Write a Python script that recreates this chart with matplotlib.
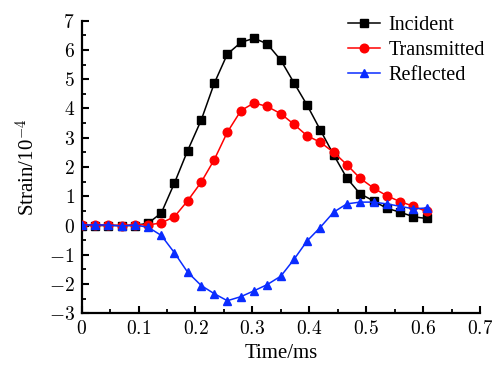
import matplotlib
matplotlib.use("Agg")
import matplotlib.pyplot as plt
from matplotlib.ticker import MultipleLocator, FuncFormatter

plt.rcParams['font.family'] = ['Liberation Serif', 'DejaVu Serif']
plt.rcParams['mathtext.fontset'] = 'cm'

time_ms = [0.000, 0.023, 0.047, 0.070, 0.093, 0.117, 0.140, 0.163, 0.186,
           0.210, 0.233, 0.256, 0.280, 0.303, 0.326, 0.350, 0.373, 0.396,
           0.419, 0.443, 0.466, 0.489, 0.513, 0.536, 0.559, 0.583, 0.606]

incident = [0.00, 0.00, 0.00, 0.00, 0.00, 0.08, 0.43, 1.45, 2.55, 3.60,
            4.86, 5.86, 6.26, 6.40, 6.21, 5.65, 4.88, 4.12, 3.28, 2.41,
            1.62, 1.09, 0.84, 0.59, 0.46, 0.30, 0.24]

transmitted = [0.02, 0.02, 0.02, 0.00, 0.03, 0.02, 0.09, 0.30, 0.84, 1.48,
               2.25, 3.19, 3.93, 4.19, 4.07, 3.82, 3.46, 3.07, 2.85, 2.50,
               2.08, 1.62, 1.28, 1.02, 0.82, 0.66, 0.48]

reflected = [0.02, 0.02, 0.02, -0.02, 0.02, -0.06, -0.34, -0.93, -1.59, -2.05,
             -2.33, -2.57, -2.43, -2.23, -2.02, -1.73, -1.16, -0.53, -0.07, 0.46,
             0.74, 0.80, 0.80, 0.74, 0.66, 0.57, 0.60]

series_names = ["Incident", "Transmitted", "Reflected"]

fig = plt.figure(figsize=(4.92, 3.66), dpi=100)
ax = fig.add_axes([0.166, 0.144, 0.8096, 0.7994])

ax.plot(time_ms, incident, color='black', marker='s', markersize=5.4,
        linewidth=1.1, label=series_names[0], zorder=3)
ax.plot(time_ms, transmitted, color='#ff0000', marker='o', markersize=6.2,
        linewidth=1.1, label=series_names[1], zorder=4)
ax.plot(time_ms, reflected, color='#0a2cff', marker='^', markersize=6.2,
        linewidth=1.1, label=series_names[2], zorder=5)

ax.set_xlim(0, 0.7)
ax.set_ylim(-3, 7)
ax.xaxis.set_major_locator(MultipleLocator(0.1))
ax.xaxis.set_minor_locator(MultipleLocator(0.05))
ax.yaxis.set_major_locator(MultipleLocator(1))
ax.yaxis.set_minor_locator(MultipleLocator(0.5))
ax.xaxis.set_major_formatter(FuncFormatter(lambda v, p: f"${v:.1f}$" if abs(v) > 1e-9 else "$0$"))
ax.yaxis.set_major_formatter(FuncFormatter(lambda v, p: f"${int(round(v))}$"))

for s in ['top', 'right']:
    ax.spines[s].set_visible(False)
for s in ['left', 'bottom']:
    ax.spines[s].set_linewidth(1.6)

ax.tick_params(which='major', direction='in', length=5, width=1.5, labelsize=14, pad=5)
ax.tick_params(which='minor', direction='in', length=3, width=1.3)

ax.set_xlabel("Time/ms", fontsize=15, labelpad=4)
ax.set_ylabel(r"Strain/10$^{-4}$", fontsize=15, labelpad=6)

leg = ax.legend(loc='upper left', bbox_to_anchor=(348/492, 0.957),
                bbox_transform=fig.transFigure, frameon=False, fontsize=14.5,
                handlelength=1.6, handletextpad=0.4, labelspacing=0.29,
                borderpad=0, borderaxespad=0, numpoints=1)

fig.savefig("out.png", dpi=100)
